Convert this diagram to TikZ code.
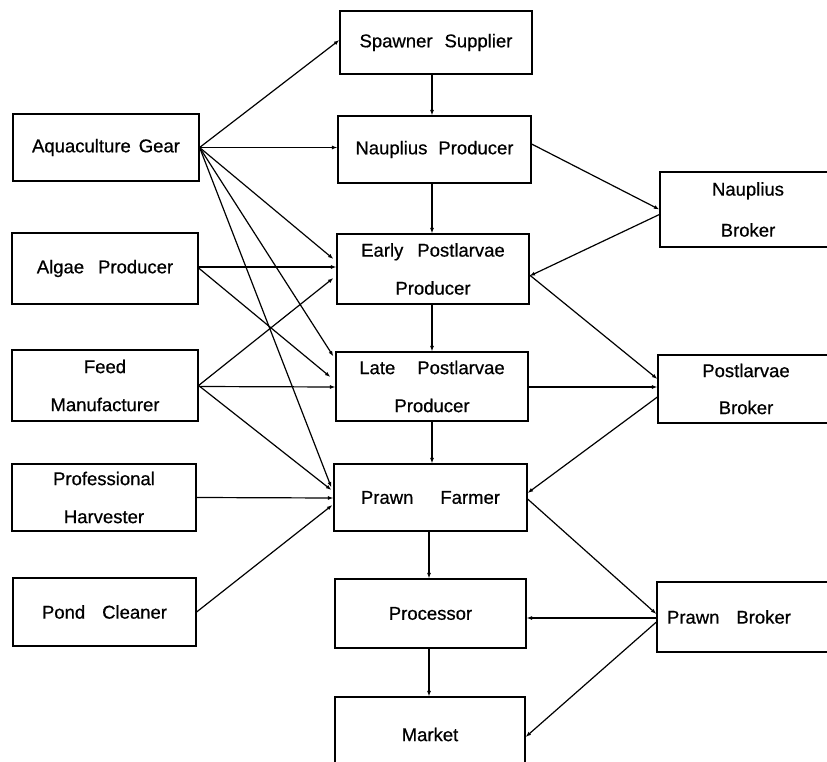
\documentclass[tikz,border=0pt]{standalone}
\usepackage{fontspec}
\setmainfont{Liberation Sans}[FakeBold=0.6]
\usetikzlibrary{arrows.meta,calc}
\begin{document}
\begin{tikzpicture}[x=1pt,y=-1pt,
  box/.style={draw, line width=1.2pt, rectangle, inner sep=0pt, align=center,
              font=\fontsize{18.5}{38}\selectfont},
  link/.style={line width=1.2pt, -{Latex[length=5.5pt,width=4pt]}}]
\useasboundingbox (0,0) rectangle (827,762);
\clip (0,0) rectangle (827,762);

% centre column: the production chain
\node[box, minimum width=192, minimum height=63] (ss) at (436,42.5) {Spawner\hspace{12pt}Supplier};
\node[box, minimum width=193, minimum height=67] (np) at (434.5,149.5) {Nauplius\hspace{11pt}Producer};
\node[box, minimum width=192, minimum height=70] (ep) at (433,269) {Early\hspace{14pt}Postlarvae\\Producer};
\node[box, minimum width=192, minimum height=69] (lp) at (432,386.5) {Late\hspace{22pt}Postlarvae\\Producer};
\node[box, minimum width=193, minimum height=67] (pf) at (430.5,497.5) {Prawn\hspace{27pt}Farmer};
\node[box, minimum width=191, minimum height=69] (pr) at (430.5,613.5) {Processor};
\node[box, minimum width=190, minimum height=75] (mk) at (430,734.5) {Market};

% left column: suppliers and services
\node[box, minimum width=186, minimum height=67] (ag) at (106,147.5) {Aquaculture\hspace{8pt}Gear};
\node[box, minimum width=186, minimum height=71] (al) at (105,268.5) {Algae\hspace{14pt}Producer};
\node[box, minimum width=186, minimum height=71] (fm) at (105,385.5) {Feed\\Manufacturer};
\node[box, minimum width=184, minimum height=67] (ph) at (104,497.5) {Professional\\Harvester};
\node[box, minimum width=183, minimum height=68] (pc) at (104.5,612) {Pond\hspace{17pt}Cleaner};

% right column: brokers
\node[box, minimum width=176, minimum height=75, font=\fontsize{18.5}{41}\selectfont] (nb) at (748,209.5) {Nauplius\\Broker};
\node[box, minimum width=176, minimum height=68, font=\fontsize{18.5}{37}\selectfont] (pb) at (746,389) {Postlarvae\\Broker};
\node[box, minimum width=178, minimum height=70, inner xsep=10pt, text width=158pt, align=left] (prb) at (746,617) {Prawn\hspace{17pt}Broker};

\coordinate (colA) at (432,0);
\coordinate (colB) at (429,0);

% vertical flow down the chain
\draw[link] (ss.south -| colA) -- (np.north -| colA);
\draw[link] (np.south -| colA) -- (ep.north -| colA);
\draw[link] (ep.south -| colA) -- (lp.north -| colA);
\draw[link] (lp.south -| colA) -- (pf.north -| colA);
\draw[link] (pf.south -| colB) -- (pr.north -| colB);
\draw[link] (pr.south -| colB) -- (mk.north -| colB);

% aquaculture gear
\draw[link] (ag.east) -- ([yshift=2.5pt]ss.west);
\draw[link] (ag.east) -- ([yshift=2pt]np.west);
\draw[link] (ag.east) -- ([xshift=-3pt,yshift=10pt]ep.west);
\draw[link] (ag.east) -- ([xshift=-2pt,yshift=-5pt]lp.north west);
\draw[link] (ag.east) -- ([xshift=-2pt,yshift=10pt]pf.west);

% algae producer
\draw[link] ([yshift=1.5pt]al.east) -- ([yshift=2pt]ep.west);
\draw[link] ([yshift=0.5pt]al.east) -- ([xshift=-5pt,yshift=9.5pt]lp.west);

% feed manufacturer
\draw[link] (fm.east) -- ([xshift=-3pt,yshift=-9pt]ep.west);
\draw[link] ([yshift=-1pt]fm.east) -- ([yshift=-0.5pt]lp.west);
\draw[link] (fm.east) -- ([xshift=-2pt,yshift=7.5pt]pf.west);

% harvester and pond cleaner
\draw[link] (ph.east) -- ([yshift=-0.5pt]pf.west);
\draw[link] (pc.east) -- ([xshift=-1pt,yshift=-7.5pt]pf.west);

% nauplius broker
\draw[link] ([yshift=5.5pt]np.east) -- (nb.west);
\draw[link] ([yshift=-5pt]nb.west) -- ([yshift=-7pt]ep.east);

% postlarvae broker
\draw[link] ([yshift=-6pt]ep.east) -- ([yshift=10pt]pb.west);
\draw[link] ([yshift=-0.5pt]lp.east) -- ([yshift=2pt]pb.west);
\draw[link] ([yshift=-8pt]pb.west) -- ([yshift=4.5pt]pf.east);

% prawn broker
\draw[link] ([yshift=-1.5pt]pf.east) -- ([yshift=3pt]prb.west);
\draw[link] ([yshift=-1pt]prb.west) -- ([yshift=-4.5pt]pr.east);
\draw[link] ([yshift=-5pt]prb.west) -- ([yshift=-2.5pt]mk.east);
\end{tikzpicture}
\end{document}
